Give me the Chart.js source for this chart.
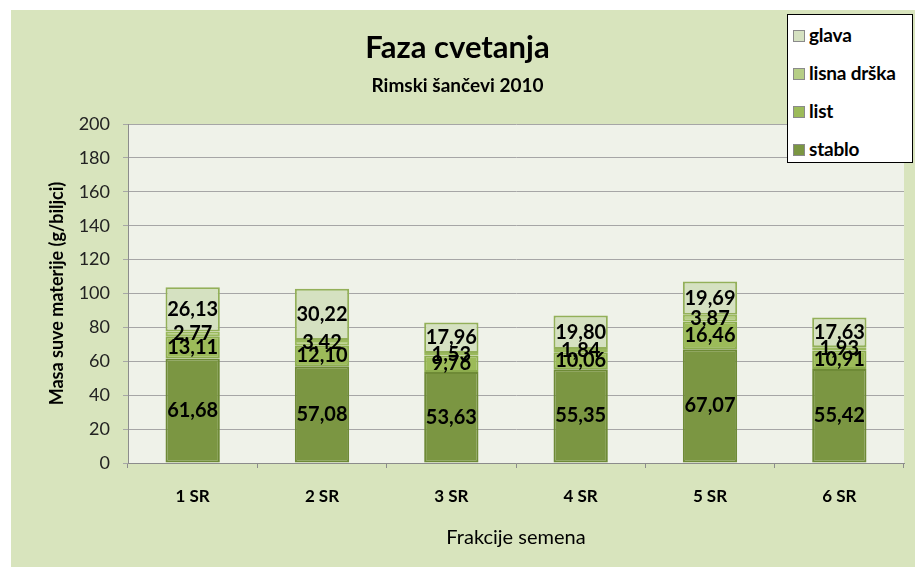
<!DOCTYPE html>
<html>
<head>
<meta charset="utf-8">
<script src="https://cdn.jsdelivr.net/npm/chart.js@4/dist/chart.umd.min.js"></script>
<style>
  html, body { margin: 0; padding: 0; background: #ffffff; }
  #wrap { position: absolute; left: 11px; top: 10px; width: 904px; height: 557px; background: #d8e4bd; }
  #legend {
    position: absolute; left: 776px; top: 4px; width: 124px; height: 147px;
    background: #ffffff; border: 1px solid #000000; font-family: Lato, sans-serif;
    font-weight: bold; font-size: 19px; color: #000;
  }
  .item { position: absolute; left: 5px; height: 22px; line-height: 22px; white-space: nowrap; letter-spacing: -0.2px; }
  .box { display: inline-block; width: 10px; height: 10px; border: 1px solid #8a8a8a; margin-right: 4px; vertical-align: 0px; }
</style>
</head>
<body>
<div id="wrap">
  <canvas id="chart" width="904" height="557"></canvas>
  <div id="legend"></div>
</div>
<script>
(function(){

    // data
    const categories = ['1 SR', '2 SR', '3 SR', '4 SR', '5 SR', '6 SR'];
    const stablo = [61.68, 57.08, 53.63, 55.35, 67.07, 55.42];
    const list = [13.11, 12.10, 9.76, 10.06, 16.46, 10.91];
    const lisnaDrska = [2.77, 3.42, 1.53, 1.84, 3.87, 1.93];
    const glava = [26.13, 30.22, 17.96, 19.80, 19.69, 17.63];
    const yTicks = [0, 20, 40, 60, 80, 100, 120, 140, 160, 180, 200];

    const seriesNames = ['stablo', 'list', 'lisna drška', 'glava'];
    const seriesData = [stablo, list, lisnaDrska, glava];
    const fills = ['#7b9642', '#9cbb59', '#b6ce86', '#d5e1c1'];
    const borders = ['#6e8a36', '#8dad4e', '#9ab95c', '#93b059'];

    // value labels in the middle of every segment, comma decimals
    const segmentLabels = {
        id: 'segmentLabels',
        afterDatasetsDraw(chart) {
            const ctx = chart.ctx;
            ctx.save();
            ctx.font = 'bold 20px Lato';
            ctx.fillStyle = '#000';
            ctx.textAlign = 'center';
            ctx.textBaseline = 'middle';
            chart.data.datasets.forEach((ds, i) => {
                const meta = chart.getDatasetMeta(i);
                meta.data.forEach((bar, j) => {
                    const y = (bar.y + bar.base) / 2;
                    ctx.fillText(ds.data[j].toFixed(2).replace('.', ','), bar.x, y);
                });
            });
            ctx.restore();
        }
    };

    // plot area background
    const plotBg = {
        id: 'plotBg',
        beforeDraw(chart) {
            const a = chart.chartArea;
            chart.ctx.save();
            chart.ctx.fillStyle = '#eff2e9';
            chart.ctx.fillRect(a.left, a.top, a.right - a.left, a.bottom - a.top);
            chart.ctx.restore();
        }
    };

    new Chart(document.getElementById('chart'), {
        type: 'bar',
        data: {
            labels: categories,
            datasets: seriesNames.map((name, i) => ({
                label: name,
                data: seriesData[i],
                backgroundColor: fills[i],
                borderColor: borders[i],
                borderWidth: 2,
                borderSkipped: false,
                categoryPercentage: 1,
                barPercentage: 0.42
            }))
        },
        options: {
            responsive: false,
            animation: false,
            layout: { padding: { left: 0, right: 11, top: 0, bottom: 0 } },
            plugins: {
                legend: { display: false },
                tooltip: { enabled: false },
                title: {
                    display: true,
                    text: 'Faza cvetanja',
                    color: '#000',
                    font: { family: 'Lato', size: 31, weight: 'bold', lineHeight: 1.2 },
                    padding: { top: 19, bottom: 4 }
                },
                subtitle: {
                    display: true,
                    text: 'Rimski šančevi 2010',
                    color: '#000',
                    font: { family: 'Lato', size: 19, weight: 'bold', lineHeight: 1.2 },
                    padding: { top: 4, bottom: 27 }
                }
            },
            scales: {
                x: {
                    stacked: true,
                    afterFit: (s) => { s.height = 104; },
                    grid: { drawOnChartArea: false, drawTicks: true, tickLength: 5, color: '#8c8c8c' },
                    border: { color: '#8c8c8c' },
                    ticks: { color: '#000', padding: 18, font: { family: 'Lato', size: 17, weight: 'bold' } },
                    title: {
                        display: true,
                        text: 'Frakcije semena',
                        color: '#000',
                        padding: 17,
                        font: { family: 'Lato', size: 20, lineHeight: 1.2 }
                    }
                },
                y: {
                    stacked: true,
                    min: 0,
                    max: 200,
                    afterFit: (s) => { s.width = 117; },
                    afterBuildTicks: (s) => { s.ticks = yTicks.map(v => ({ value: v })); },
                    grid: { color: '#a6a6a6', tickLength: 5 },
                    border: { color: '#8c8c8c' },
                    ticks: { color: '#222', padding: 13, font: { family: 'Lato', size: 18 } },
                    title: {
                        display: true,
                        text: 'Masa suve materije (g/biljci)',
                        color: '#000',
                        padding: 35,
                        font: { family: 'Lato', size: 18, weight: 'bold', lineHeight: 1.2 }
                    }
                }
            }
        },
        plugins: [plotBg, segmentLabels]
    });

    // legend box, top series first
    const legend = document.getElementById('legend');
    const tops = [9, 47, 85, 123];
    for (let k = 0; k < seriesNames.length; k++) {
        const i = seriesNames.length - 1 - k;
        const item = document.createElement('div');
        item.className = 'item';
        item.style.top = tops[k] + 'px';
        item.innerHTML = '<span class="box" style="background:' + fills[i] + '"></span>' + seriesNames[i];
        legend.appendChild(item);
    }
})();
</script>
</body>
</html>
